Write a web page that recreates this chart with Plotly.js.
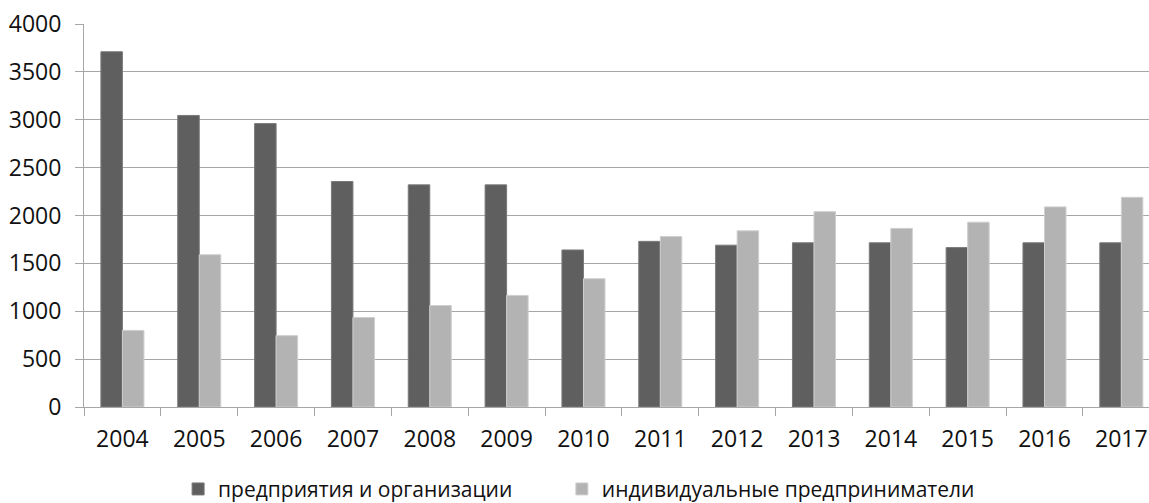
<!DOCTYPE html>
<html>
<head>
<meta charset="utf-8">
<script src="https://cdn.plot.ly/plotly-3.0.1.min.js"></script>
<style>html,body{margin:0;padding:0;background:#fff;}#chart{width:1149px;height:503px;}</style>
</head>
<body>
<div id="chart"></div>
<script>
const years = ["2004","2005","2006","2007","2008","2009","2010","2011","2012","2013","2014","2015","2016","2017"];
const orgName = "предприятия и организации";
const ipName = "индивидуальные предприниматели";
const orgValues = [3710, 3045, 2960, 2355, 2320, 2320, 1640, 1730, 1690, 1715, 1715, 1665, 1715, 1715];
const ipValues = [800, 1590, 745, 935, 1060, 1165, 1340, 1780, 1840, 2040, 1865, 1930, 2090, 2190];
const yTicks = [0, 500, 1000, 1500, 2000, 2500, 3000, 3500, 4000];

const fontFam = "'Open Sans', 'DejaVu Sans', sans-serif";
const legendFont = {family: fontFam, size: 21, color: "#111"};
const data = [
  {type: "bar", x: years, y: orgValues, name: orgName, legend: "legend",
   marker: {color: "#5f5f5f", line: {color: "#7a7a7a", width: 1}}, hoverinfo: "x+y"},
  {type: "bar", x: years, y: ipValues, name: ipName, legend: "legend2",
   marker: {color: "#b3b3b3", line: {color: "#cfcfcf", width: 1}}, hoverinfo: "x+y"}
];
const layout = {
  width: 1149, height: 503,
  margin: {l: 84, r: 0, t: 24, b: 96, pad: 0},
  paper_bgcolor: "#fff", plot_bgcolor: "#fff",
  font: {family: fontFam, size: 23, color: "#111"},
  barmode: "group", bargap: 0.44, bargroupgap: 0,
  showlegend: true,
  legend: {orientation: "h", xref: "container", yref: "container", x: 0.155, xanchor: "left",
           y: 0.068, yanchor: "top", font: legendFont, itemclick: false},
  legend2: {orientation: "h", xref: "container", yref: "container", x: 0.489, xanchor: "left",
           y: 0.068, yanchor: "top", font: legendFont, itemclick: false},
  xaxis: {type: "category", range: [-0.5, 13.36], showgrid: false, zeroline: false,
          showline: true, linecolor: "#a6a6a6", linewidth: 1,
          ticks: "outside", tickson: "boundaries", ticklen: 8, tickcolor: "#a6a6a6", tickwidth: 1,
          ticklabelstandoff: 11, tickfont: {family: fontFam, size: 23, color: "#111"}},
  yaxis: {range: [0, 4000], tickvals: yTicks, ticktext: yTicks.map(String),
          showgrid: true, gridcolor: "#a6a6a6", gridwidth: 1, zeroline: false,
          showline: true, linecolor: "#a6a6a6", linewidth: 1,
          ticks: "outside", ticklen: 8, tickcolor: "#a6a6a6", tickwidth: 1,
          ticklabelstandoff: 9, tickfont: {family: fontFam, size: 23, color: "#111"}}
};
Plotly.newPlot("chart", data, layout, {displayModeBar: false, staticPlot: true});
</script>
</body>
</html>
